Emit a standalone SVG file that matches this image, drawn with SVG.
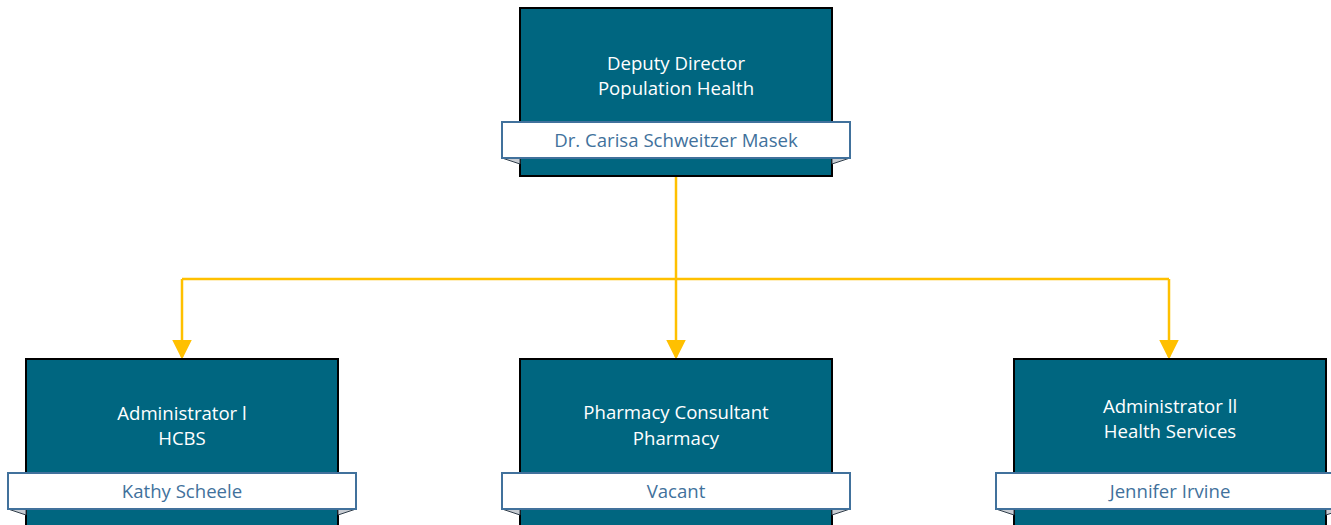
<svg xmlns="http://www.w3.org/2000/svg" width="1331" height="525" viewBox="0 0 1331 525">
<style>
.box{fill:#006680;stroke:#000;stroke-width:2}
.rib{fill:#fff;stroke:#41719c;stroke-width:2}
.fold{fill:#c8ccd2;stroke:#2f3d4a;stroke-width:1}
.t{font-family:"Open Sans","Noto Sans",sans-serif;font-size:18.6px;fill:#fff;text-anchor:middle}
.n{font-family:"Open Sans","Noto Sans",sans-serif;font-size:18.6px;fill:#41719c;text-anchor:middle}
.c{fill:none;stroke:#ffc000;stroke-width:2.5}
</style>
<defs>
<marker id="ah" markerWidth="8" markerHeight="8" refX="7" refY="4" orient="auto" markerUnits="strokeWidth">
<path d="M0,0 L8,4 L0,8 Z" fill="#ffc000"/>
</marker>
</defs>
<rect width="1331" height="525" fill="#fff"/>
<g id="connectors">
<path class="c" d="M676,176 V279"/>
<path class="c" d="M182,279 H1169"/>
<path class="c" d="M182,279 V357" marker-end="url(#ah)"/>
<path class="c" d="M676,279 V357" marker-end="url(#ah)"/>
<path class="c" d="M1169,279 V357" marker-end="url(#ah)"/>
</g>
<g id="node-deputy">
<rect class="box" x="520" y="8" width="312" height="168"/>
<polygon class="fold" points="502,158 520,158 520,164"/>
<polygon class="fold" points="850,158 832,158 832,164"/>
<rect class="rib" x="502" y="122" width="348" height="36"/>
<text class="t" x="676" y="70">Deputy Director</text>
<text class="t" x="676" y="95">Population Health</text>
<text class="n" x="676" y="147">Dr. Carisa Schweitzer Masek</text>
</g>
<g id="node-hcbs">
<rect class="box" x="26" y="359" width="312" height="180"/>
<polygon class="fold" points="8,509 26,509 26,515"/>
<polygon class="fold" points="356,509 338,509 338,515"/>
<rect class="rib" x="8" y="473" width="348" height="36"/>
<text class="t" x="182" y="420">Administrator l</text>
<text class="t" x="182" y="445">HCBS</text>
<text class="n" x="182" y="498">Kathy Scheele</text>
</g>
<g id="node-pharmacy">
<rect class="box" x="520" y="359" width="312" height="180"/>
<polygon class="fold" points="502,509 520,509 520,515"/>
<polygon class="fold" points="850,509 832,509 832,515"/>
<rect class="rib" x="502" y="473" width="348" height="36"/>
<text class="t" x="676" y="419">Pharmacy Consultant</text>
<text class="t" x="676" y="445">Pharmacy</text>
<text class="n" x="676" y="498">Vacant</text>
</g>
<g id="node-health">
<rect class="box" x="1014" y="359" width="312" height="180"/>
<polygon class="fold" points="996,509 1014,509 1014,515"/>
<polygon class="fold" points="1344,509 1326,509 1326,515"/>
<rect class="rib" x="996" y="473" width="348" height="36"/>
<text class="t" x="1170" y="413">Administrator ll</text>
<text class="t" x="1170" y="438">Health Services</text>
<text class="n" x="1170" y="498">Jennifer Irvine</text>
</g>
</svg>
